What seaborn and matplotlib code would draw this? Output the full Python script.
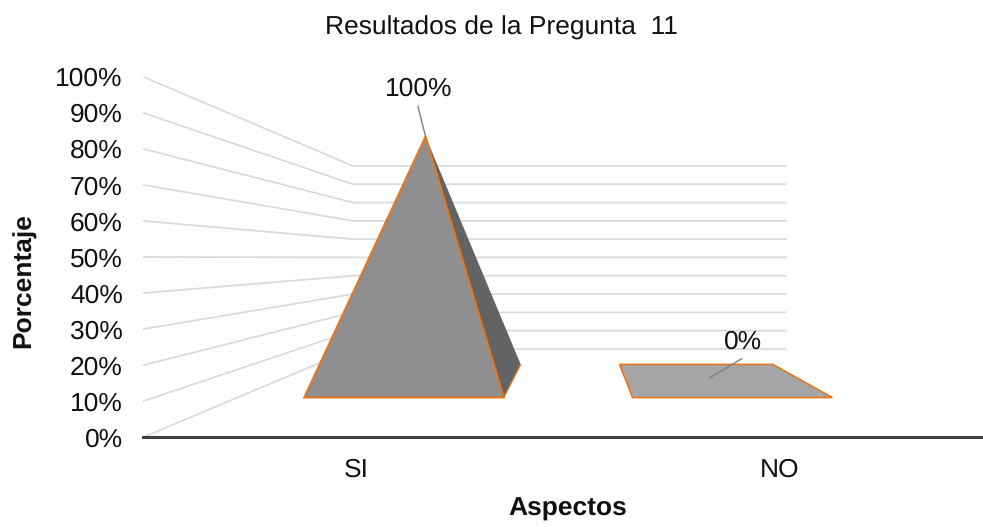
import pandas as pd
import numpy as np
import seaborn as sns
import matplotlib.pyplot as plt
from matplotlib.transforms import ScaledTranslation

categories = ['SI', 'NO']
porcentajes = [100, 0]
niveles = [0, 10, 20, 30, 40, 50, 60, 70, 80, 90, 100]

# 3D look of the chart: depth 0 = front of the floor, depth 1 = back wall
PROF_ALTO = 24.5      # how far up the back wall starts, in % of the front axis
ESCALA_FONDO = 0.5075  # back wall height / front axis height
FONDO_IZQ = 0.25      # back wall left end, as fraction of axis width
FONDO_DER = 0.2345    # back wall right end, from the right
BASE_D0, BASE_D1, APEX_D = 0.45, 0.825, 0.67
MEDIO_ANCHO = 0.304
DESPL = 0.007


def proyectar(cat, valor, d):
    izq = FONDO_IZQ * d
    der = 1 - FONDO_DER * d
    frac = (cat + 0.5) / 2
    x = -0.5 + 2 * (izq + (der - izq) * frac)
    y = d * PROF_ALTO + valor * (1 - d + d * ESCALA_FONDO)
    return x, y


sns.set_theme(style='white')
plt.rcParams['font.family'] = ['Liberation Sans', 'DejaVu Sans']
plt.rcParams['text.hinting'] = 'no_hinting'

fig = plt.figure(figsize=(9.83, 5.27), dpi=100)
ax = fig.add_axes([143 / 983, 1 - 437.3 / 527, 840 / 983, 360.6 / 527])

# grid lines: front axis -> back wall -> right end of wall
filas = []
for nivel in niveles:
    for orden, (cat_x, d) in enumerate([(-0.5, 0), (-0.5, 1), (1.5, 1)]):
        x, y = proyectar(cat_x, nivel, d)
        filas.append({'nivel': nivel, 'orden': orden, 'x': x, 'y': y})
grid = pd.DataFrame(filas)
sns.lineplot(data=grid, x='x', y='y', units='nivel', estimator=None, sort=False,
             color='#d9d9d9', linewidth=1.2, legend=False, ax=ax, zorder=1)

NARANJA = '#e8761c'
for i, (cat, valor) in enumerate(zip(categories, porcentajes)):
    c = i + DESPL
    fl = proyectar(c - MEDIO_ANCHO, 0, BASE_D0)
    fr = proyectar(c + MEDIO_ANCHO, 0, BASE_D0)
    br = proyectar(c + MEDIO_ANCHO, 0, BASE_D1)
    bl = proyectar(c - MEDIO_ANCHO, 0, BASE_D1)
    apex = proyectar(i, valor, APEX_D)
    if valor > 0:
        ax.fill(*zip(fr, br, apex), facecolor='#636363', edgecolor='none', zorder=3)
        ax.plot(*zip(fr, br), color=NARANJA, linewidth=0.9, zorder=4)
        ax.fill(*zip(fl, fr, apex), facecolor='#8f8f8f', edgecolor=NARANJA,
                linewidth=1.4, joinstyle='miter', zorder=4)
        offset = (-5.5, 22)
        ha_txt = (-5, 34.5)
    else:
        ax.fill(*zip(fl, fr, br, bl), facecolor='#a5a5a5', edgecolor=NARANJA,
                linewidth=1.2, joinstyle='miter', zorder=3)
        offset = (23.5, 14)
        ha_txt = (24.5, 26)
    # leader line and value label
    ax.annotate('', xy=apex, xytext=offset, textcoords='offset points',
                arrowprops=dict(arrowstyle='-', color='#7f7f7f', linewidth=1.0,
                                shrinkA=0, shrinkB=0), zorder=5)
    ax.annotate(f'{valor}%', xy=apex, xytext=ha_txt, textcoords='offset points',
                ha='center', va='center', fontsize=19, color='#111111', zorder=6)

ax.set_xlim(-0.5, 1.5)
ax.set_ylim(0, 100)
ax.set_xticks(range(len(categories)))
ax.set_xticklabels(categories, fontsize=19, color='#111111')
ax.set_yticks(niveles)
ax.set_yticklabels([f'{n}%' for n in niveles], fontsize=19, color='#111111')
ax.tick_params(axis='y', length=0, pad=14.5)
ax.tick_params(axis='x', length=0, pad=14.5)

# category labels sit a little right of the slot centres in the original
for etiqueta, dx in zip(ax.get_xticklabels(), [3.5, 6.5]):
    etiqueta.set_transform(etiqueta.get_transform()
                           + ScaledTranslation(dx / 100, 0, fig.dpi_scale_trans))

sns.despine(ax=ax, left=True, top=True, right=True)
ax.spines['bottom'].set_color('#404040')
ax.spines['bottom'].set_linewidth(2.2)
ax.patch.set_alpha(0)

ax.set_xlabel('Aspectos', fontsize=19, fontweight='bold', color='#111111')
ax.xaxis.set_label_coords(0.506, -0.165)
ax.set_ylabel('Porcentaje', fontsize=19, fontweight='bold', color='#111111')
ax.yaxis.set_label_coords(-0.127, 0.435)

fig.text(501 / 983, 1 - 28 / 527, 'Resultados de la Pregunta  11', ha='center',
         va='center', fontsize=19, color='#111111')

plt.savefig('out.png', dpi=100)
